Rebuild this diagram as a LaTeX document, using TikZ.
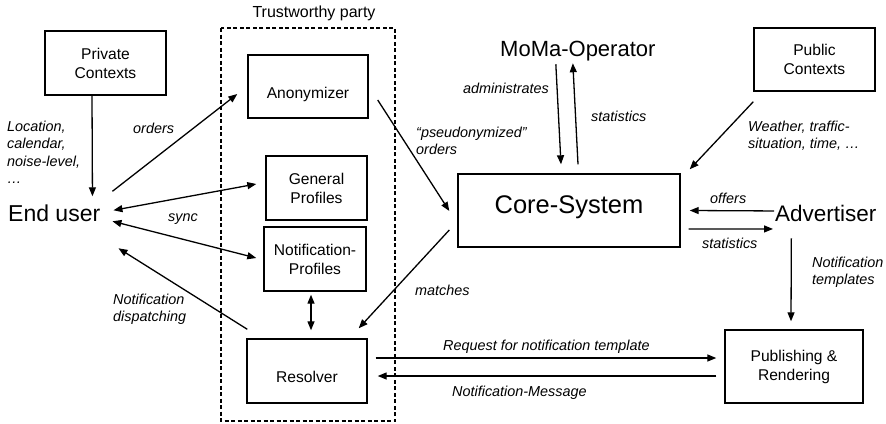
\documentclass[tikz,border=0pt]{standalone}
\usepackage{fontspec}
\setmainfont{Liberation Sans}
\usetikzlibrary{arrows.meta,calc}
\begin{document}
\begin{tikzpicture}[x=1pt,y=-1pt,
  box/.style={draw, line width=1.4pt, inner sep=0pt, align=center,
    font=\fontsize{15.6}{19}\selectfont},
  lowtext/.style={text height=24pt, text depth=1pt},
  big/.style={inner sep=0pt, anchor=base west},
  lbl/.style={inner sep=0pt, align=left, font=\fontsize{14.4}{17.6}\selectfont\itshape},
  conn/.style={line width=1.3pt, -{Triangle[length=9pt,width=7pt]}},
  conn2/.style={line width=1.3pt, {Triangle[length=9pt,width=7pt]}-{Triangle[length=9pt,width=7pt]}}]
\useasboundingbox (0,0) rectangle (886,423);

% trusted zone
\draw[line width=1.3pt, dash pattern=on 4pt off 2.5pt] (221,28) rectangle (395,421);
\node[font=\fontsize{16}{19}\selectfont] (trust) at (314,13) {Trustworthy party};

% boxes
\node[box, minimum width=121pt, minimum height=64pt] (private) at (105.5,63) {Private\\Contexts};
\node[box, lowtext, minimum width=120pt, minimum height=63pt] (anon) at (308,86.5) {Anonymizer};
\node[box, minimum width=101pt, minimum height=64pt] (genprof) at (316.5,188) {General\\Profiles};
\node[box, minimum width=102pt, minimum height=64pt] (notprof) at (315,259) {Notification-\\Profiles};
\node[box, lowtext, minimum width=120pt, minimum height=64pt] (resolver) at (307,371) {Resolver};
\node[box, minimum width=222pt, minimum height=73pt, text height=18.6pt, text depth=12pt,
  font=\fontsize{25.5}{30}\selectfont] (core) at (569,210.5) {Core-System};
\node[box, minimum width=121pt, minimum height=63pt] (public) at (814.5,59.5) {Public\\Contexts};
\node[box, minimum width=138pt, minimum height=73pt] (pub) at (794,366.5) {Publishing \&\\Rendering};

% actors
\node[big, font=\fontsize{23}{27}\selectfont] (enduser) at (8,221.5) {End user};
\node[big, font=\fontsize{22}{26}\selectfont] (moma) at (500,56.5) {MoMa-Operator};
\node[big, font=\fontsize{22.5}{27}\selectfont] (adv) at (775,221) {Advertiser};

% connectors
\draw[conn] ($(private.south)+(-13.5,0)$) -- ($(enduser.east)+(-8,-17)$);
\draw[conn] ($(enduser.east)+(12,-22)$) -- ($(anon.west)+(-10,7.5)$);
\draw[conn2] ($(enduser.east)+(13,-3)$) -- ($(genprof.west)+(-9,-4)$);
\draw[conn2] ($(enduser.east)+(12,8)$) -- ($(notprof.west)+(-7,-1)$);
\draw[conn] ($(resolver.north west)+(1,-9)$) -- ($(enduser.east)+(18,35)$);
\draw[conn] ($(anon.east)+(9,13.5)$) -- ($(core.west)+(-8,0.5)$);
\draw[conn2] ($(notprof.south)+(-4,3)$) -- ($(resolver.north)+(4,-8)$);
\draw[conn] ($(core.west)+(-8,19.5)$) -- ($(resolver.north east)+(-9,-10)$);
\draw[conn] ($(moma.south)+(-22,3)$) -- ($(core.north)+(-8,-9)$);
\draw[conn] ($(core.north)+(9,-9)$) -- ($(moma.south)+(-5,2)$);
\draw[conn] ($(public.south west)+(0,10)$) -- ($(core.north east)+(9,-4)$);
\draw[conn] ($(adv.west)+(-1,-2)$) -- ($(core.east)+(9,0)$);
\draw[conn] ($(core.east)+(8,18.5)$) -- ($(adv.west)+(-2,16)$);
\draw[conn] ($(adv.south)+(-34.5,17)$) -- ($(pub.north)+(-3,-8)$);
\draw[conn] ($(resolver.east)+(8,-13)$) -- ($(pub.west)+(-8,-8.5)$);
\draw[conn] ($(pub.west)+(-8,9.5)$) -- ($(resolver.east)+(10,5)$);

% connector labels
\node[lbl, anchor=north west] (lctx) at (7,120.5) {Location,\\calendar,\\noise-level,\\…};
\node[lbl, anchor=base west] (lorders) at (133,133) {orders};
\node[lbl, anchor=base west] (lsync) at (168,221.5) {sync};
\node[lbl, anchor=north west] (ldisp) at (113,293.5) {Notification\\dispatching};
\node[lbl, anchor=north west] (lpseudo) at (416,126.5) {“pseudonymized”\\orders};
\node[lbl, anchor=base east] (ladmin) at (549,93) {administrates};
\node[lbl, anchor=base west] (lstat1) at (591,121) {statistics};
\node[lbl, anchor=north west] (lpctx) at (748,120.5) {Weather, traffic-\\situation, time, …};
\node[lbl, anchor=base west] (loffers) at (710,203) {offers};
\node[lbl, anchor=base west] (lstat2) at (702,248) {statistics};
\node[lbl, anchor=north west] (ltempl) at (812,256.5) {Notification\\templates};
\node[lbl, anchor=base west] (lmatch) at (415,295) {matches};
\node[lbl, anchor=base west] (lreq) at (443,350) {Request for notification template};
\node[lbl, anchor=base west] (lmsg) at (452,396) {Notification-Message};
\end{tikzpicture}
\end{document}
